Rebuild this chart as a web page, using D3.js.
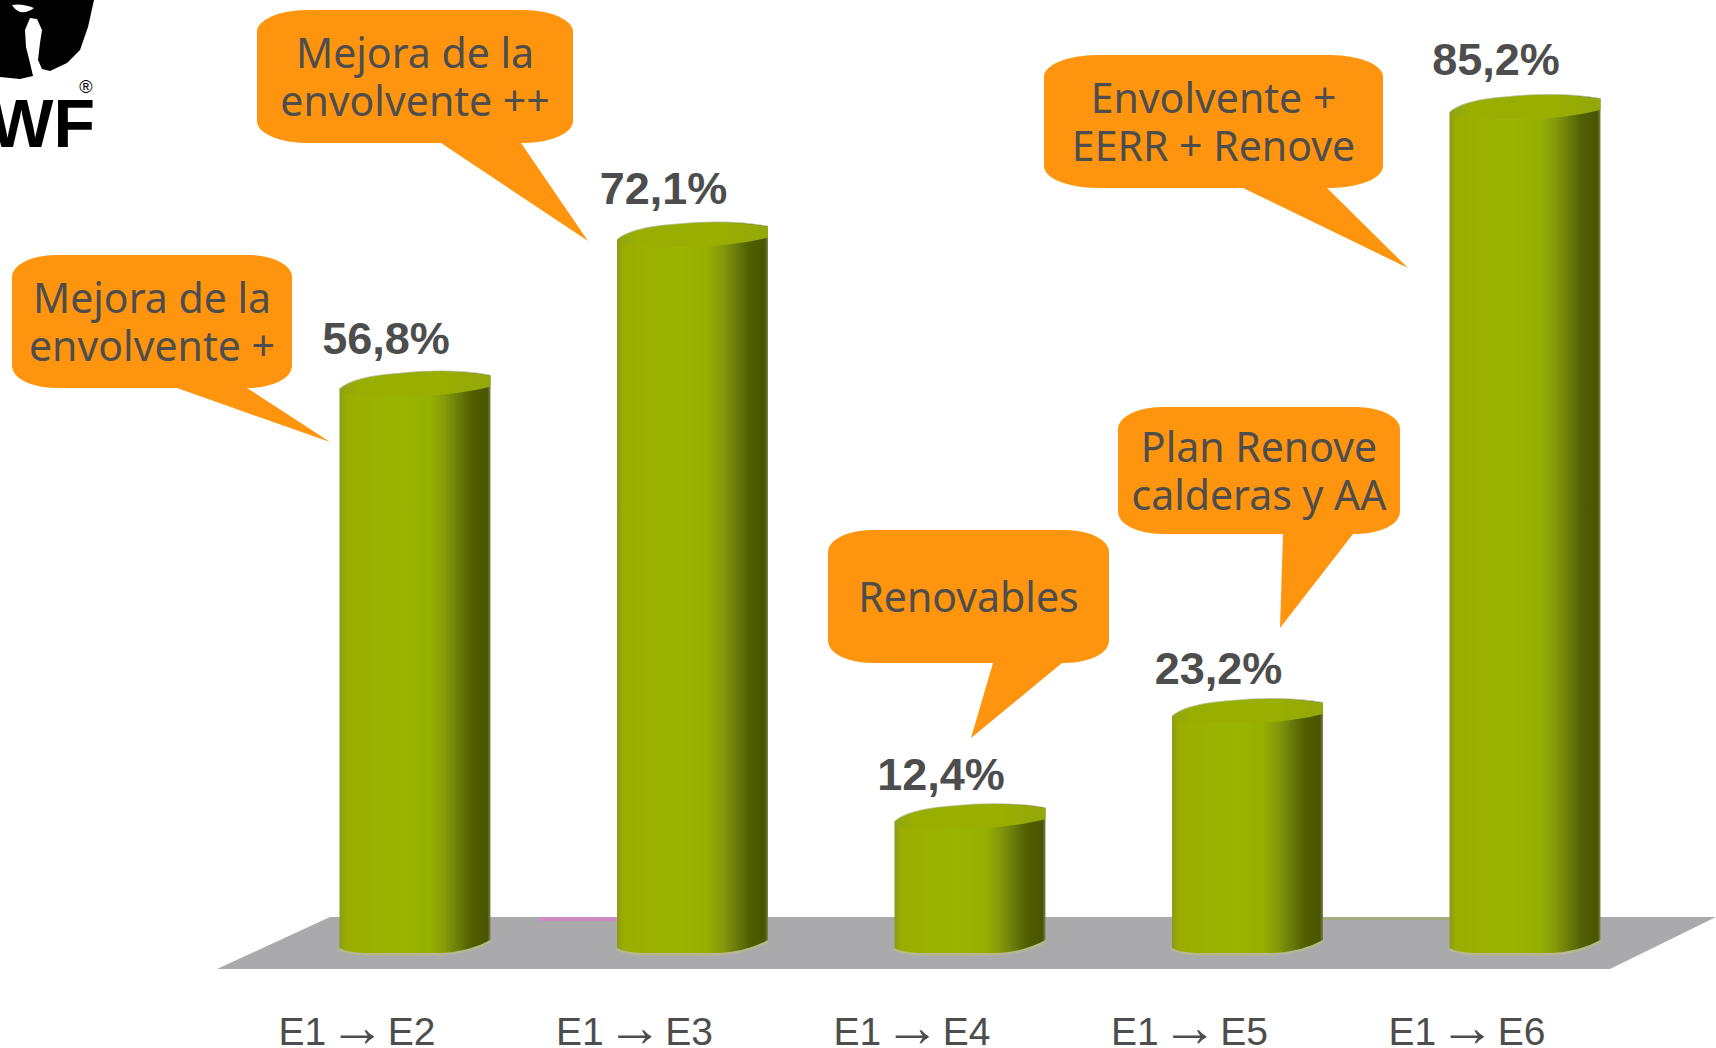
<!DOCTYPE html>
<html><head><meta charset="utf-8">
<script src="https://cdn.jsdelivr.net/npm/d3@7/dist/d3.min.js"></script>
<style>html,body{margin:0;padding:0;background:#fff;overflow:hidden}svg{display:block}</style>
</head><body><svg id="c" width="1716" height="1048"></svg>
<script>
const categories = ["E1 → E2","E1 → E3","E1 → E4","E1 → E5","E1 → E6"];
const values = [56.8,72.1,12.4,23.2,85.2];
const valueLabels = ["56,8%","72,1%","12,4%","23,2%","85,2%"];
const calloutLines = [["Mejora de la","envolvente +"],["Mejora de la","envolvente ++"],["Renovables"],["Plan Renove","calderas y AA"],["Envolvente +","EERR + Renove"]];

const svg = d3.select("#c"), defs = svg.append("defs");
const x = d3.scalePoint().domain(categories).range([415,1525]);
const y = d3.scaleLinear().domain([0,85.2]).range([940,110]);
const yLabel = d3.scaleLinear().domain([0,85.2]).range([912,75]);
const barW = 151;

// horizontal cylinder shading
const g = defs.append("linearGradient").attr("id","cyl");
[[0,"#8a9a18"],[0.04,"#9aac00"],[0.2,"#9ab100"],[0.42,"#99b500"],[0.6,"#96af00"],[0.7,"#84990a"],[0.8,"#65780a"],[0.88,"#505e00"],[0.98,"#4a5500"],[1,"#7a8550"]]
  .forEach(([o,c])=>g.append("stop").attr("offset",o).attr("stop-color",c));
const gc = defs.append("linearGradient").attr("id","cap");
[[0,"#8fa318"],[0.12,"#98ae00"],[0.7,"#98ae00"],[1,"#93a80a"]]
  .forEach(([o,c])=>gc.append("stop").attr("offset",o).attr("stop-color",c));

// floor
svg.append("path").attr("d","M217,969L330,917L1716,917L1610,969Z").attr("fill","#aaaaad");
svg.append("rect").attr("x",539).attr("y",917).attr("width",78).attr("height",4).attr("fill","#cf8cc4");
svg.append("rect").attr("x",1300).attr("y",917).attr("width",150).attr("height",3).attr("fill","#a3ad80");

// bars
const sides=d=>[x(d)-barW/2,x(d)+barW/2];
const topEdge=(l,r,t)=>`M${l},${t+3}C${l+8},${t-5} ${l+30},${t-11} ${l+60},${t-13}C${l+90},${t-16} ${r-30},${t-16} ${r},${t-11}`;
const bottomEdge=(l,r,b)=>`M${r},${b}Q${r-22},${b+12} ${r-50},${b+13}L${l+25},${b+13}Q${l+6},${b+12} ${l},${b+8}`;
const bars = svg.append("g").selectAll("g").data(categories).join("g");
bars.append("path").attr("fill","none").attr("stroke","#b4b88c").attr("stroke-width",5).attr("d",d=>bottomEdge(...sides(d),y(0)));
bars.append("path").attr("fill","none").attr("stroke","#b9bd9c").attr("stroke-width",2).attr("d",(d,i)=>topEdge(...sides(d),y(values[i])));
bars.append("path").attr("fill","url(#cyl)").attr("d",(d,i)=>{
  const [l,r]=sides(d);
  return topEdge(l,r,y(values[i]))+`L${r},${y(0)}`+bottomEdge(l,r,y(0)).replace(/^M[^Q]+/,"")+"Z";
});
bars.append("path").attr("fill","url(#cap)").attr("d",(d,i)=>{
  const [l,r]=sides(d),t=y(values[i]);
  return topEdge(l,r,t)+`L${r},${t}C${r-20},${t+5} ${r-50},${t+9} ${r-70},${t+9}L${l+30},${t+9}C${l+12},${t+8} ${l+3},${t+6} ${l},${t+3}Z`;
});

// value labels
svg.append("g").selectAll("text").data(categories).join("text")
  .attr("x",d=>x(d)-29).attr("y",(d,i)=>yLabel(values[i]))
  .attr("text-anchor","middle").attr("font-family","Liberation Sans").attr("font-weight","bold")
  .attr("font-size",45).attr("fill","#4d4d4d").text((d,i)=>valueLabels[i]);

// category labels
const cat = svg.append("g").selectAll("text").data(categories).join("text")
  .attr("x",d=>x(d)-58).attr("y",1045)
  .attr("text-anchor","middle").attr("font-family","Liberation Sans")
  .attr("font-size",39).attr("fill","#4d4d4d");
cat.each(function(d){
  const parts=d.split("→"), t=d3.select(this);
  t.append("tspan").text(parts[0]);
  t.append("tspan").attr("font-size",56).attr("dx",-8).attr("dy",1).text("→");
  t.append("tspan").attr("dx",-8).attr("dy",-1).text(parts[1]);
});

// callouts: box [x0,y0,x1,y1], tail [base left, base right, tip x, tip y]
const boxes=[[12,255,292,388],[257,10,573,143],[828,530,1109,663],[1118,407,1400,534],[1044,55,1383,188]];
const tails=[[177,247,330,442],[441,521,588,241],[993,1062,971,738],[1283,1353,1280,628],[1243,1327,1408,268]];
const co = svg.append("g").selectAll("g").data(calloutLines).join("g");
co.append("path").attr("fill","#ff950e").attr("d",(d,i)=>{
  const [a,b,c,e]=boxes[i],[p,q,tx,ty]=tails[i],rx=(c-a)*0.155,ry=22;
  return `M${a+rx},${b}L${c-rx},${b}A${rx},${ry} 0 0 1 ${c},${b+ry}L${c},${e-ry}A${rx},${ry} 0 0 1 ${c-rx},${e}L${q},${e}L${tx},${ty}L${p},${e}L${a+rx},${e}A${rx},${ry} 0 0 1 ${a},${e-ry}L${a},${b+ry}A${rx},${ry} 0 0 1 ${a+rx},${b}Z`;
});
co.each(function(lines,i){
  const [a,b,c,e]=boxes[i],cx=(a+c)/2,cy=(b+e)/2,lh=48;
  d3.select(this).selectAll("text").data(lines).join("text")
    .attr("x",cx).attr("y",(l,j)=>cy+15+(j-(lines.length-1)/2)*lh)
    .attr("text-anchor","middle").attr("font-family","Noto Sans").attr("font-size",41).attr("fill","#4d4d4d").text(l=>l);
});

// logo
const logo=svg.append("g");
logo.append("path").attr("fill","#000").attr("d","M0,0L94,0L88,27L80,50L67,63L50,71L42,69L38,60L40,43L42,30L37,19L30,18L25,30L26,47L30,63L33,76L20,79L0,77Z");
logo.append("path").attr("fill","#fff").attr("d","M12,5Q22,3 34,8Q28,13 20,12Q15,10 12,5Z");
logo.append("text").attr("x",95).attr("y",147).attr("text-anchor","end").attr("font-family","Liberation Sans").attr("font-weight","bold").attr("font-size",68).attr("fill","#000").text("WF");
logo.append("text").attr("x",86).attr("y",93).attr("text-anchor","middle").attr("font-family","Liberation Sans").attr("font-size",18).attr("fill","#000").text("®");
</script></body></html>
